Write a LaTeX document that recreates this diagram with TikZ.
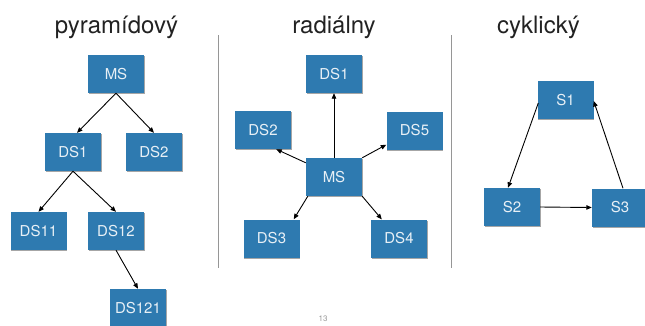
\documentclass[tikz,border=0pt]{standalone}
\usepackage{fontspec}
\setmainfont{TeX Gyre Heros}
\usetikzlibrary{arrows.meta,shadows,calc}
\definecolor{boxblue}{RGB}{46,122,176}
\definecolor{boxtext}{RGB}{232,240,246}
\definecolor{titlegray}{RGB}{34,34,34}
\definecolor{divgray}{RGB}{150,150,150}
\begin{document}
\begin{tikzpicture}[x=1pt,y=-1pt,
  box/.style={rectangle, fill=boxblue, text=boxtext, minimum width=56pt, minimum height=38pt,
    inner sep=0pt, font=\fontsize{15}{15}\selectfont,
    drop shadow={shadow xshift=0.6pt, shadow yshift=-1.2pt, opacity=0.35, fill=black}},
  title/.style={anchor=base, text=titlegray, font=\fontsize{24}{24}\selectfont},
  conn/.style={draw=black, line width=0.9pt, -{Triangle[length=5.5pt,width=4.5pt]}},
  divider/.style={draw=divgray, line width=0.8pt}]
\useasboundingbox (0,0) rectangle (645,325);
% titles
\node[title] (t1) at (116.5,33) {pyramídový};
\node[title] (t2) at (334,33) {radiálny};
\node[title] (t3) at (538.5,33) {cyklický};
% dividers
\coordinate (d1a) at (218,35); \coordinate (d1b) at (218,268);
\coordinate (d2a) at (451,35); \coordinate (d2b) at (451,268);
\draw[divider] (d1a) -- (d1b);
\draw[divider] (d2a) -- (d2b);
% pyramid
\node[box] (pMS) at (116,74) {MS};
\node[box] (pDS1) at (73,152) {DS1};
\node[box] (pDS2) at (154,152) {DS2};
\node[box] (pDS11) at (38.5,231) {DS11};
\node[box] (pDS12) at (116,231) {DS12};
\node[box] (pDS121) at (138,308) {DS121};
\draw[conn] (pMS.south) -- ($(pDS1.north)+(4,0)$);
\draw[conn] (pMS.south) -- (pDS2.north);
\draw[conn] (pDS1.south) -- (pDS11.north);
\draw[conn] (pDS1.south) -- (pDS12.north);
\draw[conn] (pDS12.south) -- (pDS121.north);
% radial
\node[box] (rDS1) at (334,74) {DS1};
\node[box] (rDS2) at (263,130) {DS2};
\node[box] (rDS5) at (414.5,130.5) {DS5};
\node[box] (rMS) at (334,177) {MS};
\node[box] (rDS3) at (271.5,238.5) {DS3};
\node[box] (rDS4) at (399,238.5) {DS4};
\draw[conn] (rMS.north) -- (rDS1.south);
\draw[conn] ($(rMS.north west)+(0,5)$) -- ($(rDS2.south east)+(-15,0)$);
\draw[conn] ($(rMS.north east)+(0,0)$) -- ($(rDS5.south west)+(0,-5)$);
\draw[conn] ($(rMS.south west)+(2,0)$) -- ($(rDS3.north east)+(-6,0)$);
\draw[conn] (rMS.south east) -- ($(rDS4.north west)+(11,0)$);
% cyclic
\node[box] (cS1) at (565.5,100) {S1};
\node[box] (cS2) at (512,207) {S2};
\node[box] (cS3) at (620,207.5) {S3};
\draw[conn] ($(cS1.west)+(1,3)$) -- ($(cS2.north)+(-4,0)$);
\draw[conn] (cS2.east) -- (cS3.west);
\draw[conn] ($(cS3.north)+(3,0)$) -- ($(cS1.east)+(0,1)$);
% page number
\node[text=divgray, font=\fontsize{8}{8}\selectfont, inner sep=1pt] (pg) at (323,319) {13};
\end{tikzpicture}
\end{document}
